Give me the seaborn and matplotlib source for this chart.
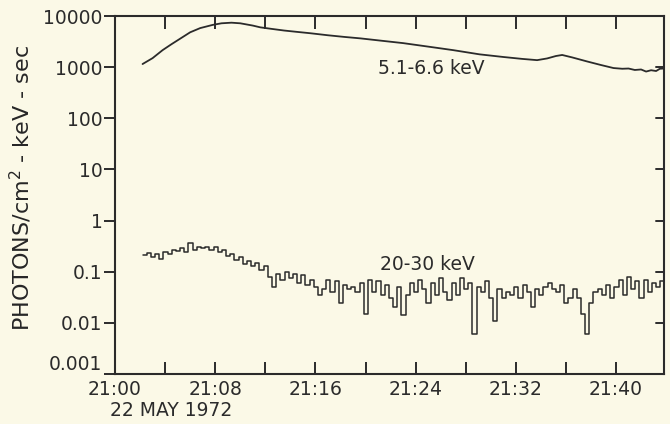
import numpy as np
import pandas as pd
import matplotlib
matplotlib.use("Agg")
import matplotlib.pyplot as plt
import seaborn as sns

# ---- data (minutes after 21:00 UT, 22 May 1972) ----
soft_t = [2.2, 3.0, 3.8, 4.5, 5.2, 6.0, 6.8, 7.8, 8.5, 9.3, 10.0, 11.0, 11.6, 12.5,
          13.5, 14.5, 15.6, 17.0, 18.3, 19.6, 21.2, 23.0, 25.1, 27.0, 29.1, 31.0,
          32.5, 33.7, 34.5, 35.2, 35.7, 36.5, 37.7, 38.8, 39.8, 40.5, 41.0, 41.5,
          42.0, 42.4, 42.8, 43.2, 43.5, 43.8]
soft_flux = [1150, 1500, 2150, 2800, 3600, 4800, 5800, 6700, 7200, 7400, 7200, 6500,
             6000, 5600, 5200, 4900, 4600, 4200, 3900, 3650, 3300, 2950, 2500, 2150,
             1780, 1580, 1450, 1370, 1480, 1650, 1730, 1550, 1290, 1100, 960, 930,
             940, 880, 900, 820, 870, 840, 930, 940]

hard_start = 2.2           # first bin start (min)
hard_binw = 1.0 / 3.0      # 20 s accumulation bins
hard_flux = [0.21, 0.23, 0.19, 0.22, 0.18, 0.24, 0.22, 0.27, 0.25, 0.29, 0.24, 0.36,
             0.27, 0.30, 0.29, 0.31, 0.27, 0.30, 0.24, 0.27, 0.20, 0.22, 0.17, 0.19,
             0.14, 0.16, 0.13, 0.15, 0.11, 0.13, 0.08, 0.05, 0.09, 0.07, 0.10, 0.075,
             0.09, 0.06, 0.085, 0.055, 0.07, 0.05, 0.035, 0.045, 0.07, 0.04, 0.065, 0.025,
             0.055, 0.045, 0.05, 0.04, 0.06, 0.015, 0.07, 0.04, 0.065, 0.035, 0.055, 0.03,
             0.02, 0.05, 0.014, 0.035, 0.06, 0.04, 0.07, 0.045, 0.025, 0.06, 0.035, 0.075,
             0.04, 0.028, 0.06, 0.035, 0.075, 0.045, 0.06, 0.006, 0.05, 0.04, 0.065, 0.03,
             0.011, 0.045, 0.03, 0.04, 0.035, 0.05, 0.03, 0.055, 0.04, 0.02, 0.045, 0.035,
             0.05, 0.06, 0.045, 0.04, 0.055, 0.025, 0.03, 0.045, 0.03, 0.015, 0.006, 0.025,
             0.04, 0.045, 0.035, 0.055, 0.03, 0.05, 0.07, 0.035, 0.08, 0.045, 0.065, 0.03,
             0.07, 0.04, 0.06, 0.05, 0.065]

y_ticks = [1e4, 1e3, 1e2, 1e1, 1, 0.1, 0.01, 0.001]
y_ticklabels = ["10000", "1000", "100", "10", "1", "0.1", "0.01", "0.001"]
x_major = [0, 8, 16, 24, 32, 40]
x_ticklabels = ["21:00", "21:08", "21:16", "21:24", "21:32", "21:40"]
x_minor = [4, 12, 20, 28, 36]
label_soft = "5.1-6.6 keV"
label_hard = "20-30 keV"
date_label = "22 MAY 1972"
y_label = r"PHOTONS/cm$^2$ - keV - sec"

# ---- frames ----
df_soft = pd.DataFrame({"t": soft_t, "flux": soft_flux})
edges = hard_start + hard_binw * np.arange(len(hard_flux) + 1)
df_hard = pd.DataFrame({"t": edges, "flux": hard_flux + [hard_flux[-1]]})

# ---- style ----
sns.set_style("ticks")
bg = "#fbf9e7"
ink = "#2b2b2b"
plt.rcParams.update({
    "font.family": ["DejaVu Sans"],
    "axes.facecolor": bg,
    "figure.facecolor": bg,
    "axes.edgecolor": ink,
    "text.color": ink,
    "xtick.color": ink,
    "ytick.color": ink,
})

fig = plt.figure(figsize=(6.7, 4.24), dpi=100)
ax = fig.add_axes([115 / 670, 1 - 374 / 424, (664 - 115) / 670, (374 - 16) / 424])

sns.lineplot(data=df_soft, x="t", y="flux", ax=ax, color=ink, linewidth=1.3,
             estimator=None, sort=False)
sns.lineplot(data=df_hard, x="t", y="flux", ax=ax, color=ink, linewidth=1.1,
             drawstyle="steps-post", estimator=None, sort=False)

ax.set_yscale("log")
ax.set_ylim(0.001, 10000)
ax.set_xlim(0, 43.83)
ax.set_yticks(y_ticks)
ax.set_yticklabels(y_ticklabels)
ax.yaxis.set_minor_locator(matplotlib.ticker.NullLocator())
ax.set_xticks(x_major)
ax.set_xticklabels(x_ticklabels)
ax.set_xticks(x_minor, minor=True)

for sp in ax.spines.values():
    sp.set_linewidth(1.5)
    sp.set_visible(True)

ax.tick_params(axis="x", which="both", direction="in", top=True, bottom=True,
               length=9, width=1.4, labelsize=13.5, pad=4)
ax.tick_params(axis="y", which="major", direction="out", left=True, right=False,
               length=8, width=1.4, labelsize=13.5, pad=1)
# the lowest y label sits on the baseline, clear of the first time label
ax.get_yticklabels()[-1].set_verticalalignment("bottom")
# right-hand inward ticks
for yt in y_ticks[1:-1]:
    ax.plot([0.985, 1.0], [yt, yt], transform=ax.get_yaxis_transform(),
            color=ink, linewidth=1.4, clip_on=False)

ax.set_xlabel("")
ax.set_ylabel(y_label, fontsize=16)
ax.yaxis.label.set_verticalalignment("center")
ax.yaxis.set_label_coords((21 - 115) / (664 - 115), 0.52)

fig.text(431 / 670, 1 - 68 / 424, label_soft, fontsize=13.5, ha="center", va="center")
fig.text(427 / 670, 1 - 265 / 424, label_hard, fontsize=13.5, ha="center", va="center")
fig.text(171 / 670, 1 - 410 / 424, date_label, fontsize=13.5, ha="center", va="center")

fig.savefig("out.png", dpi=100, facecolor=bg)
